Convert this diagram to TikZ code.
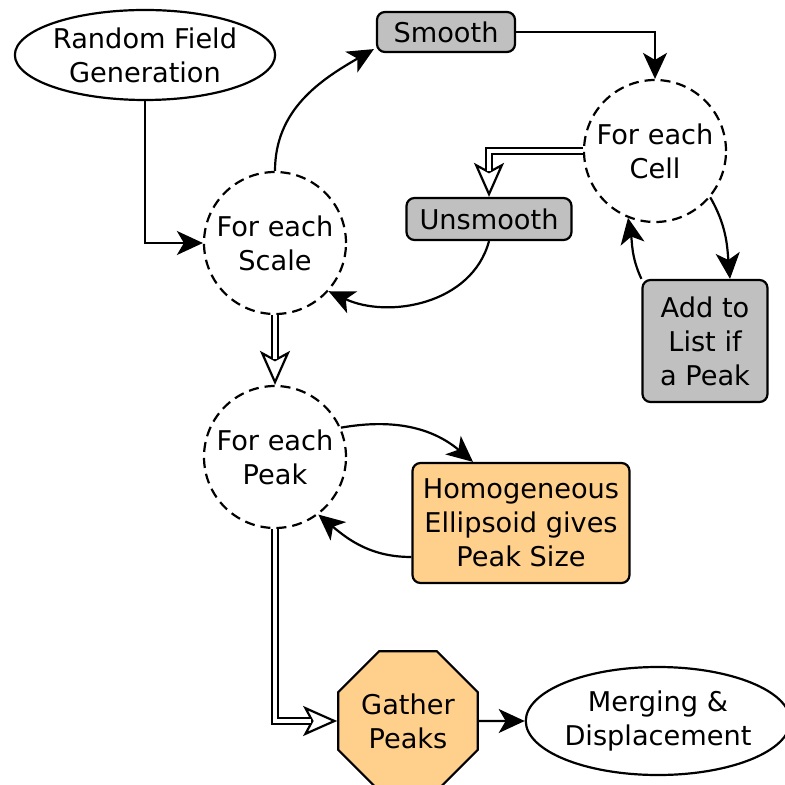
\documentclass[tikz,border=0pt]{standalone}
\usepackage{fontspec}
\setmainfont{DejaVu Sans}
\usetikzlibrary{arrows.meta,shapes.geometric}
\definecolor{boxgray}{RGB}{192,192,192}
\definecolor{boxorange}{RGB}{255,208,140}

\begin{document}
\begin{tikzpicture}[x=0.5pt,y=-0.5pt,
  every node/.style={font=\fontsize{13.6}{17}\selectfont, align=center,
    inner sep=0pt, line width=1.1pt},
  loopnode/.style={circle, draw, dash pattern=on 5pt off 3pt, minimum size=71pt},
  endnode/.style={ellipse, draw},
  graybox/.style={rectangle, rounded corners=4pt, draw, fill=boxgray},
  orangebox/.style={rectangle, rounded corners=4pt, draw, fill=boxorange},
  flow/.style={draw, line width=1.1pt, -{Stealth[length=13pt,width=12pt,inset=3.5pt]}},
  hollowtip/.style={draw, line width=1.1pt, -{Stealth[open,length=17pt,width=15pt,inset=4pt]}},
  dblshaft/.style={draw, line width=1.1pt, double, double distance=2pt, shorten >=13pt},
]
\useasboundingbox (0,0) rectangle (785,785);

% nodes
\node[endnode, minimum width=127pt, minimum height=45pt] (rfg) at (145,55) {Random Field\\Generation};
\node[graybox, minimum width=69pt, minimum height=20pt] (smooth) at (446,32) {Smooth};
\node[loopnode] (cell) at (655,151) {For each\\Cell};
\node[loopnode] (scale) at (275,243) {For each\\Scale};
\node[graybox, minimum width=82.5pt, minimum height=21pt] (unsmooth) at (489,219) {Unsmooth};
\node[graybox, minimum width=62.5pt, minimum height=61pt] (add) at (705,341) {Add to\\List if\\a Peak};
\node[loopnode] (peak) at (275,457) {For each\\Peak};
\node[orangebox, minimum width=108.5pt, minimum height=60pt] (homog) at (521,523) {Homogeneous\\Ellipsoid gives\\Peak Size};
\node[regular polygon, regular polygon sides=8, draw, fill=boxorange, minimum size=75.5pt] (gather) at (408,721) {Gather\\Peaks};
\node[endnode, minimum width=126pt, minimum height=54pt] (merge) at (658,721) {Merging \&\\Displacement};

% single-line connectors
\draw[flow] (rfg.south) |- (scale.west);
\draw[flow] (scale.north) to[out=90, in=210] ([xshift=-1pt,yshift=2pt]smooth.south west);
\draw[flow] (smooth.east) -| (cell.north);
\draw[flow] (unsmooth.south) to[out=-105, in=-25] (scale.-42);
\draw[flow] (cell.-40) to[out=-60, in=95] ([xshift=12.5pt]add.north);
\draw[flow] (add.north west) to[out=115, in=-80] (cell.-112);
\draw[flow] (peak.24) to[out=10, in=140] ([xshift=-24pt]homog.north);
\draw[flow] ([yshift=-17pt]homog.west) to[out=180, in=-40] (peak.-53);
\draw[flow] (gather.east) -- (merge.west);

% double-line connectors with hollow heads
\draw[hollowtip] (cell.west) -| (unsmooth.north);
\draw[dblshaft] (cell.west) -| (unsmooth.north);
\draw[hollowtip] (scale.south) -- (peak.north);
\draw[dblshaft] (scale.south) -- (peak.north);
\draw[hollowtip] (peak.south) |- (gather.west);
\draw[dblshaft] (peak.south) |- (gather.west);
\end{tikzpicture}
\end{document}
